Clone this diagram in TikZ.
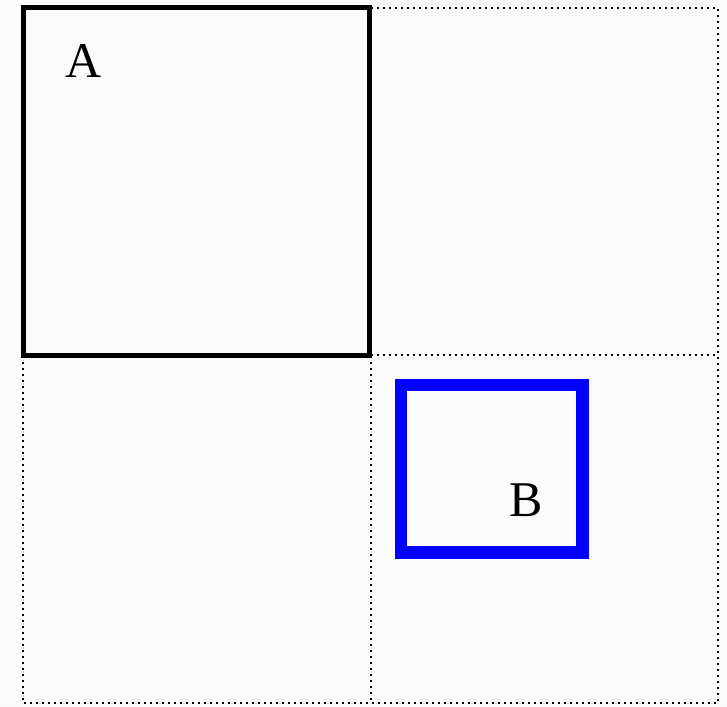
\documentclass[tikz,border=0pt]{standalone}
\usepackage{fontspec}
\setmainfont{Liberation Serif}
\begin{document}
\begin{tikzpicture}[x=1pt,y=-1pt,
  gridline/.style={line width=2pt,dash pattern=on 1.6pt off 4.4pt,black},
  boxA/.style={line width=5pt,black},
  boxB/.style={line width=12.5pt,blue,line join=miter},
  lbl/.style={font=\fontsize{50}{50}\selectfont,anchor=base,inner sep=0pt}]
\useasboundingbox (0,0) rectangle (727,706);
\fill[black!1.5] (0,0) rectangle (727,706);
% dotted grid
\coordinate (o1) at (23,8);
\coordinate (o2) at (718,703);
\draw[gridline] (o1) rectangle (o2);
\draw[gridline] (371,355) -- (718,355);
\draw[gridline] (23,355) -- (371,355);
\draw[gridline] (371,8) -- (371,703);
% square A
\coordinate (a1) at (23.5,7.5);
\coordinate (a2) at (369.5,355.5);
\draw[boxA] (a1) rectangle (a2);
% square B
\coordinate (b1) at (401,385);
\coordinate (b2) at (582.5,552.5);
\draw[boxB] (b1) rectangle (b2);
% labels
\node[lbl] (la) at (84,78) {A};
\node[lbl] (lb) at (526,516) {B};
\end{tikzpicture}
\end{document}
